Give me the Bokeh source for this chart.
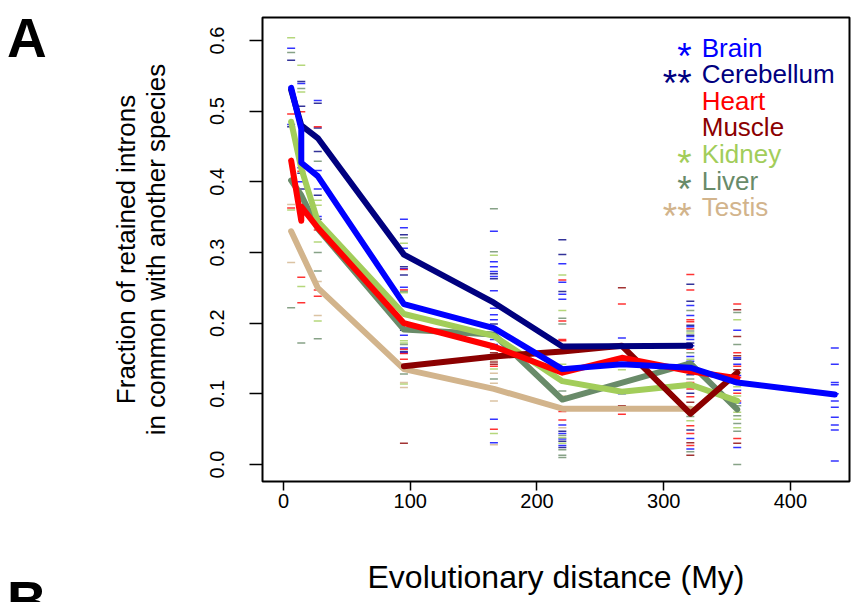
from bokeh.plotting import figure
from bokeh.layouts import row
from bokeh.models import Range1d, FixedTicker, NumeralTickFormatter, Label, Div
from bokeh.embed import file_html
from bokeh.resources import INLINE

FONT = "Liberation Sans"

tissues = ["Brain", "Cerebellum", "Heart", "Muscle", "Kidney", "Liver", "Testis"]
colors = {"Brain": "#0000FF", "Cerebellum": "#00007F", "Heart": "#FF0000",
          "Muscle": "#8B0000", "Kidney": "#A2CD5A", "Liver": "#698B69",
          "Testis": "#D2B48C"}
stars = {"Brain": "*", "Cerebellum": "**", "Heart": "", "Muscle": "",
         "Kidney": "*", "Liver": "*", "Testis": "**"}

# mean trend lines (evolutionary distance in My, fraction)
brain_x = [6, 14, 14, 27, 95, 166, 220, 267, 321, 358, 435]
brain_y = [0.533, 0.475, 0.427, 0.408, 0.227, 0.193, 0.135, 0.142, 0.137, 0.116, 0.099]
cereb_x = [6, 14, 27, 95, 166, 220, 321]
cereb_y = [0.530, 0.480, 0.462, 0.297, 0.229, 0.167, 0.168]
heart_x = [6, 14, 14, 27, 95, 166, 220, 267, 321, 358]
heart_y = [0.430, 0.345, 0.365, 0.335, 0.200, 0.167, 0.130, 0.151, 0.132, 0.122]
muscle_x = [95, 166, 220, 267, 321, 358]
muscle_y = [0.139, 0.153, 0.160, 0.168, 0.072, 0.130]
kidney_x = [6, 14, 27, 95, 166, 220, 267, 321, 358]
kidney_y = [0.485, 0.419, 0.344, 0.213, 0.182, 0.118, 0.103, 0.113, 0.090]
liver_x = [6, 14, 27, 95, 166, 220, 321, 358]
liver_y = [0.402, 0.381, 0.334, 0.191, 0.184, 0.092, 0.143, 0.078]
testis_x = [6, 27, 95, 166, 220, 321]
testis_y = [0.330, 0.250, 0.135, 0.107, 0.079, 0.079]

# individual comparisons (x, value)
brain_pts = [(6, 0.589), (6, 0.481), (14, 0.539), (14, 0.420), (14, 0.400),
             (27, 0.515), (27, 0.416), (27, 0.390), (27, 0.351),
             (95, 0.347), (95, 0.335), (95, 0.306), (95, 0.277), (95, 0.251), (95, 0.183), (95, 0.165), (95, 0.158),
             (166, 0.330), (166, 0.287), (166, 0.280), (166, 0.273), (166, 0.266), (166, 0.246), (166, 0.221),
             (166, 0.212), (166, 0.205), (166, 0.177), (166, 0.170), (166, 0.064), (166, 0.031),
             (220, 0.284), (220, 0.258), (220, 0.241), (220, 0.234), (220, 0.056), (220, 0.044), (220, 0.036), (220, 0.027),
             (267, 0.179), (267, 0.100),
             (321, 0.225), (321, 0.211), (321, 0.195), (321, 0.181), (321, 0.177), (321, 0.168), (321, 0.153),
             (321, 0.146), (321, 0.131), (321, 0.112), (321, 0.037), (321, 0.022),
             (358, 0.190), (358, 0.151), (358, 0.142), (358, 0.126), (358, 0.105), (358, 0.087), (358, 0.024),
             (435, 0.165), (435, 0.142), (435, 0.116), (435, 0.113), (435, 0.100), (435, 0.090), (435, 0.081),
             (435, 0.067), (435, 0.056), (435, 0.049), (435, 0.005)]
cereb_pts = [(6, 0.572), (6, 0.478), (14, 0.542), (14, 0.507), (14, 0.412), (14, 0.390),
             (27, 0.511), (27, 0.476), (27, 0.443), (27, 0.381), (27, 0.347),
             (95, 0.325), (95, 0.280), (95, 0.268), (95, 0.190), (95, 0.160),
             (166, 0.270), (166, 0.263), (166, 0.199), (166, 0.180),
             (220, 0.318), (220, 0.297), (220, 0.245), (220, 0.047), (220, 0.033), (220, 0.024),
             (321, 0.255), (321, 0.231), (321, 0.197), (321, 0.183), (321, 0.172), (321, 0.127), (321, 0.101), (321, 0.049),
             (358, 0.149)]
heart_pts = [(6, 0.496), (6, 0.363), (14, 0.499), (14, 0.415), (14, 0.265), (14, 0.229),
             (27, 0.478), (27, 0.332), (27, 0.247), (27, 0.238),
             (95, 0.276), (95, 0.247), (95, 0.163), (95, 0.157), (95, 0.149),
             (166, 0.184), (166, 0.163), (166, 0.152), (166, 0.139), (166, 0.050),
             (220, 0.261), (220, 0.203), (220, 0.177), (220, 0.175), (220, 0.075), (220, 0.063),
             (267, 0.227), (267, 0.071),
             (321, 0.269), (321, 0.247), (321, 0.205), (321, 0.202), (321, 0.192), (321, 0.163), (321, 0.137),
             (321, 0.116), (321, 0.107), (321, 0.096), (321, 0.055), (321, 0.044), (321, 0.027),
             (358, 0.227), (358, 0.158), (358, 0.139), (358, 0.123), (358, 0.101), (358, 0.090), (358, 0.037)]
muscle_pts = [(95, 0.140), (95, 0.030), (166, 0.158), (166, 0.145), (166, 0.142),
              (267, 0.250), (267, 0.083), (321, 0.088), (321, 0.031), (321, 0.013),
              (358, 0.219), (358, 0.181), (358, 0.154), (358, 0.134), (358, 0.030)]
kidney_pts = [(6, 0.604), (6, 0.360), (14, 0.565), (14, 0.527), (14, 0.252),
              (27, 0.374), (27, 0.367), (27, 0.315), (27, 0.203),
              (95, 0.313), (95, 0.243), (95, 0.175), (95, 0.172), (95, 0.114),
              (166, 0.296), (166, 0.135), (166, 0.044),
              (220, 0.268), (220, 0.218), (220, 0.142), (220, 0.038), (220, 0.030),
              (267, 0.134), (321, 0.186), (321, 0.149), (321, 0.081), (321, 0.075), (321, 0.062),
              (358, 0.205), (358, 0.130), (358, 0.110), (358, 0.097), (358, 0.074), (358, 0.064), (358, 0.052)]
liver_pts = [(6, 0.583), (6, 0.222), (14, 0.532), (14, 0.172),
             (27, 0.429), (27, 0.300), (27, 0.274), (27, 0.178),
             (95, 0.321), (95, 0.245), (95, 0.170), (95, 0.128),
             (166, 0.362), (166, 0.301), (166, 0.121),
             (220, 0.207), (220, 0.199), (220, 0.104), (220, 0.041), (220, 0.021), (220, 0.013), (220, 0.010),
             (321, 0.218), (321, 0.189), (321, 0.158), (321, 0.121), (321, 0.068), (321, 0.018),
             (358, 0.215), (358, 0.170), (358, 0.114), (358, 0.083), (358, 0.069), (358, 0.058), (358, 0.047), (358, 0.000)]
testis_pts = [(6, 0.368), (6, 0.286), (27, 0.259), (27, 0.211),
              (95, 0.116), (95, 0.109), (166, 0.148), (166, 0.129), (166, 0.115), (166, 0.090), (166, 0.028),
              (220, 0.097), (220, 0.052)]

x_ticks = [0, 100, 200, 300, 400]
y_ticks = [0.0, 0.1, 0.2, 0.3, 0.4, 0.5, 0.6]
panel_letters = ["A", "B"]

lines = {"Brain": (brain_x, brain_y), "Cerebellum": (cereb_x, cereb_y),
         "Heart": (heart_x, heart_y), "Muscle": (muscle_x, muscle_y),
         "Kidney": (kidney_x, kidney_y), "Liver": (liver_x, liver_y),
         "Testis": (testis_x, testis_y)}
points = {"Brain": brain_pts, "Cerebellum": cereb_pts, "Heart": heart_pts,
          "Muscle": muscle_pts, "Kidney": kidney_pts, "Liver": liver_pts,
          "Testis": testis_pts}

# ---- narrow strip holding the panel letters ----
LW = 100
letter_css = ("position:absolute;left:7px;margin:0;padding:0;font-family:'Liberation Sans',Arial,sans-serif;"
              "font-weight:bold;font-size:55px;line-height:55px;color:black;")
side_html = ('<div style="position:relative;width:%dpx;height:602px;overflow:hidden;margin:0;padding:0;">'
             '<div style="%stop:11px;">%s</div>'
             '<div style="%stop:574px;">%s</div></div>'
             % (LW, letter_css, panel_letters[0], letter_css, panel_letters[1]))
side = Div(text=side_html, width=LW, height=602,
           styles={"overflow": "hidden", "margin": "0px", "padding": "0px"})

# ---- main panel ----
p = figure(width=856 - LW, height=602, output_backend="svg", toolbar_location=None,
           x_range=Range1d(-16.6, 446.6), y_range=Range1d(-0.024, 0.6325))
p.min_border_left = 262 - LW
p.min_border_right = 7
p.min_border_top = 17
p.min_border_bottom = 121
p.background_fill_color = "white"
p.border_fill_color = "white"
p.outline_line_color = "black"
p.outline_line_width = 2
p.outline_line_alpha = 1
p.xgrid.visible = False
p.ygrid.visible = False

for ax in (p.xaxis[0], p.yaxis[0]):
    ax.axis_line_color = None
    ax.major_tick_line_color = "black"
    ax.major_tick_line_width = 1.5
    ax.minor_tick_line_color = None
    ax.major_tick_in = 0
    ax.major_label_text_font = FONT
    ax.major_label_text_font_size = "20px"
    ax.major_label_text_color = "black"
    ax.axis_label_text_font = FONT
    ax.axis_label_text_font_style = "normal"
    ax.axis_label_text_color = "black"

p.xaxis.ticker = FixedTicker(ticks=x_ticks)
p.xaxis.major_tick_out = 9
p.xaxis.major_label_standoff = 3
p.xaxis.axis_label = "Evolutionary distance (My)"
p.xaxis.axis_label_text_font_size = "32px"
p.xaxis.axis_label_standoff = 48

p.yaxis.ticker = FixedTicker(ticks=y_ticks)
p.yaxis.formatter = NumeralTickFormatter(format="0.0")
p.yaxis.major_label_orientation = "vertical"
p.yaxis.major_tick_out = 13
p.yaxis.major_label_standoff = 25
p.yaxis.axis_label = "Fraction of retained introns\nin common with another species"
p.yaxis.axis_label_text_font_size = "26px"
p.yaxis.axis_label_text_line_height = 1.0
p.yaxis.axis_label_standoff = 37

for t in tissues:
    pts = points[t]
    p.scatter([q[0] for q in pts], [q[1] for q in pts], marker="dash", size=8,
              line_color=colors[t], line_width=1.5, line_alpha=0.8)

for t in ["Testis", "Liver", "Kidney", "Muscle", "Heart", "Cerebellum", "Brain"]:
    xs, ys = lines[t]
    p.line(xs, ys, line_color=colors[t], line_width=6, line_join="round", line_cap="round")

# legend (text + significance stars)
leg_x = 330
leg_top = 0.590
leg_step = 0.0377
for i, t in enumerate(tissues):
    yy = leg_top - i * leg_step
    p.add_layout(Label(x=leg_x, y=yy, text=t, text_color=colors[t], text_font=FONT,
                       text_font_size="26px", text_baseline="middle", text_align="left"))
    if stars[t]:
        p.add_layout(Label(x=leg_x - 8, y=yy - 0.013, text=stars[t], text_color=colors[t],
                           text_font=FONT, text_font_size="37px", text_baseline="middle",
                           text_align="right"))

layout = row(side, p, spacing=0)
open("out.html", "w").write(file_html(layout, INLINE))
